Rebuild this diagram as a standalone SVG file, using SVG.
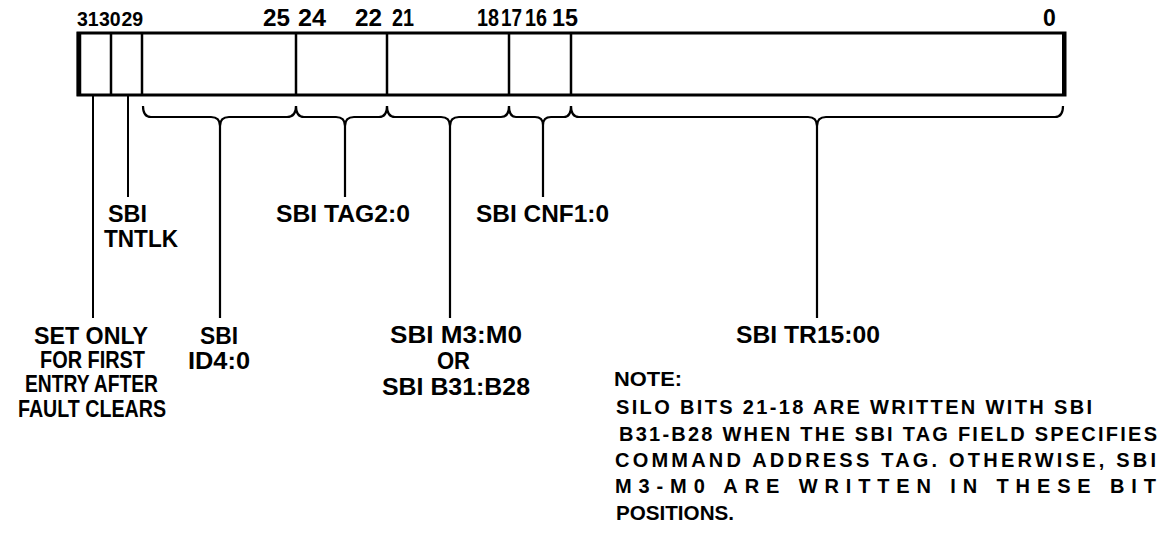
<svg xmlns="http://www.w3.org/2000/svg" width="1164" height="545" viewBox="0 0 1164 545">
<style>
text{font-family:"Liberation Sans",Arial,sans-serif;font-weight:bold;fill:#000}
.num{font-size:23px}
.sm{font-size:19.5px}
.lbl{font-size:23.5px}
.note{font-size:20px}
.ln{stroke:#000;stroke-width:2;fill:none}
.br{stroke:#000;stroke-width:2.2;fill:none;stroke-linejoin:round}
</style>
<rect width="1164" height="545" fill="#fff"/>
<g id="register">
<rect x="78" y="33" width="987" height="62" fill="#fff" stroke="#000" stroke-width="3"/>
<line x1="79" y1="32" x2="79" y2="96" stroke="#000" stroke-width="4.5"/>
<line x1="1064" y1="32" x2="1064" y2="96" stroke="#000" stroke-width="4"/>
<g stroke="#000" stroke-width="2.5">
<line x1="111" y1="33" x2="111" y2="95"/>
<line x1="142" y1="33" x2="142" y2="95"/>
<line x1="296" y1="33" x2="296" y2="95"/>
<line x1="387" y1="33" x2="387" y2="95"/>
<line x1="509" y1="33" x2="509" y2="95"/>
<line x1="571" y1="33" x2="571" y2="95"/>
</g>
</g>
<g id="bit-numbers" class="num">
<text class="sm" x="77" y="26">31</text>
<text class="sm" x="99" y="26">30</text>
<text class="sm" x="121.5" y="26">29</text>
<text x="263" y="26" textLength="27" lengthAdjust="spacingAndGlyphs">25</text>
<text x="298" y="26" textLength="28" lengthAdjust="spacingAndGlyphs">24</text>
<text x="355" y="26" textLength="27" lengthAdjust="spacingAndGlyphs">22</text>
<text x="392" y="26" textLength="22" lengthAdjust="spacingAndGlyphs">21</text>
<text x="477" y="26" textLength="22" lengthAdjust="spacingAndGlyphs">18</text>
<text x="501" y="26" textLength="21" lengthAdjust="spacingAndGlyphs">17</text>
<text x="525" y="26" textLength="22" lengthAdjust="spacingAndGlyphs">16</text>
<text x="552" y="26" textLength="26" lengthAdjust="spacingAndGlyphs">15</text>
<text x="1043" y="26">0</text>
</g>
<g id="connectors">
<line class="ln" x1="93" y1="95" x2="93" y2="318"/>
<line class="ln" x1="128" y1="95" x2="128" y2="197"/>
<path class="br" d="M143,106 Q143,117 151,117 L211,117 Q220,117 220,126 L220,318 M220,126 Q220,117 229,117 L287,117 Q296,117 296,106"/>
<path class="br" d="M296,106 Q296,117 304,117 L336,117 Q345,117 345,126 L345,197 M345,126 Q345,117 354,117 L379,117 Q387,117 387,106"/>
<path class="br" d="M387,106 Q387,117 395,117 L441,117 Q450,117 450,126 L450,318 M450,126 Q450,117 459,117 L501,117 Q509,117 509,106"/>
<path class="br" d="M509,106 Q509,117 516,117 L535,117 Q543,117 543,125 L543,197 M543,125 Q543,117 551,117 L564,117 Q571,117 571,106"/>
<path class="br" d="M571,106 Q571,117 579,117 L808,117 Q817,117 817,126 L817,318 M817,126 Q817,117 826,117 L1055,117 Q1063,117 1063,106"/>
</g>
<g id="label-tntlk" class="lbl">
<text x="108" y="222" textLength="39" lengthAdjust="spacingAndGlyphs">SBI</text>
<text x="104" y="247" textLength="74" lengthAdjust="spacingAndGlyphs">TNTLK</text>
</g>
<g id="label-set-only" class="lbl">
<text x="34" y="344" textLength="114" lengthAdjust="spacingAndGlyphs">SET ONLY</text>
<text x="40" y="368" textLength="105" lengthAdjust="spacingAndGlyphs">FOR FIRST</text>
<text x="25" y="392" textLength="133" lengthAdjust="spacingAndGlyphs">ENTRY AFTER</text>
<text x="18" y="417" textLength="148" lengthAdjust="spacingAndGlyphs">FAULT CLEARS</text>
</g>
<g id="label-id" class="lbl">
<text x="200" y="344" textLength="38" lengthAdjust="spacingAndGlyphs">SBI</text>
<text x="188" y="369" textLength="62" lengthAdjust="spacingAndGlyphs">ID4:0</text>
</g>
<g id="label-tag" class="lbl">
<text x="276" y="222" textLength="134" lengthAdjust="spacingAndGlyphs">SBI TAG2:0</text>
</g>
<g id="label-m" class="lbl">
<text x="390" y="343" textLength="132" lengthAdjust="spacingAndGlyphs">SBI M3:M0</text>
<text x="437" y="369" textLength="33" lengthAdjust="spacingAndGlyphs">OR</text>
<text x="382" y="395" textLength="148" lengthAdjust="spacingAndGlyphs">SBI B31:B28</text>
</g>
<g id="label-cnf" class="lbl">
<text x="476" y="222" textLength="133" lengthAdjust="spacingAndGlyphs">SBI CNF1:0</text>
</g>
<g id="label-tr" class="lbl">
<text x="736" y="343" textLength="144" lengthAdjust="spacingAndGlyphs">SBI TR15:00</text>
</g>
<g id="note" class="note">
<text x="614" y="386" textLength="68" lengthAdjust="spacingAndGlyphs">NOTE:</text>
<text x="616" y="414" textLength="476" lengthAdjust="spacing">SILO BITS 21-18 ARE WRITTEN WITH SBI</text>
<text x="619" y="441" textLength="538" lengthAdjust="spacing">B31-B28 WHEN THE SBI TAG FIELD SPECIFIES</text>
<text x="615" y="467" textLength="541" lengthAdjust="spacing">COMMAND ADDRESS TAG. OTHERWISE, SBI</text>
<text x="615" y="493" textLength="541" lengthAdjust="spacing">M3-M0 ARE WRITTEN IN THESE BIT</text>
<text x="616" y="520" textLength="118" lengthAdjust="spacingAndGlyphs">POSITIONS.</text>
</g>
</svg>
